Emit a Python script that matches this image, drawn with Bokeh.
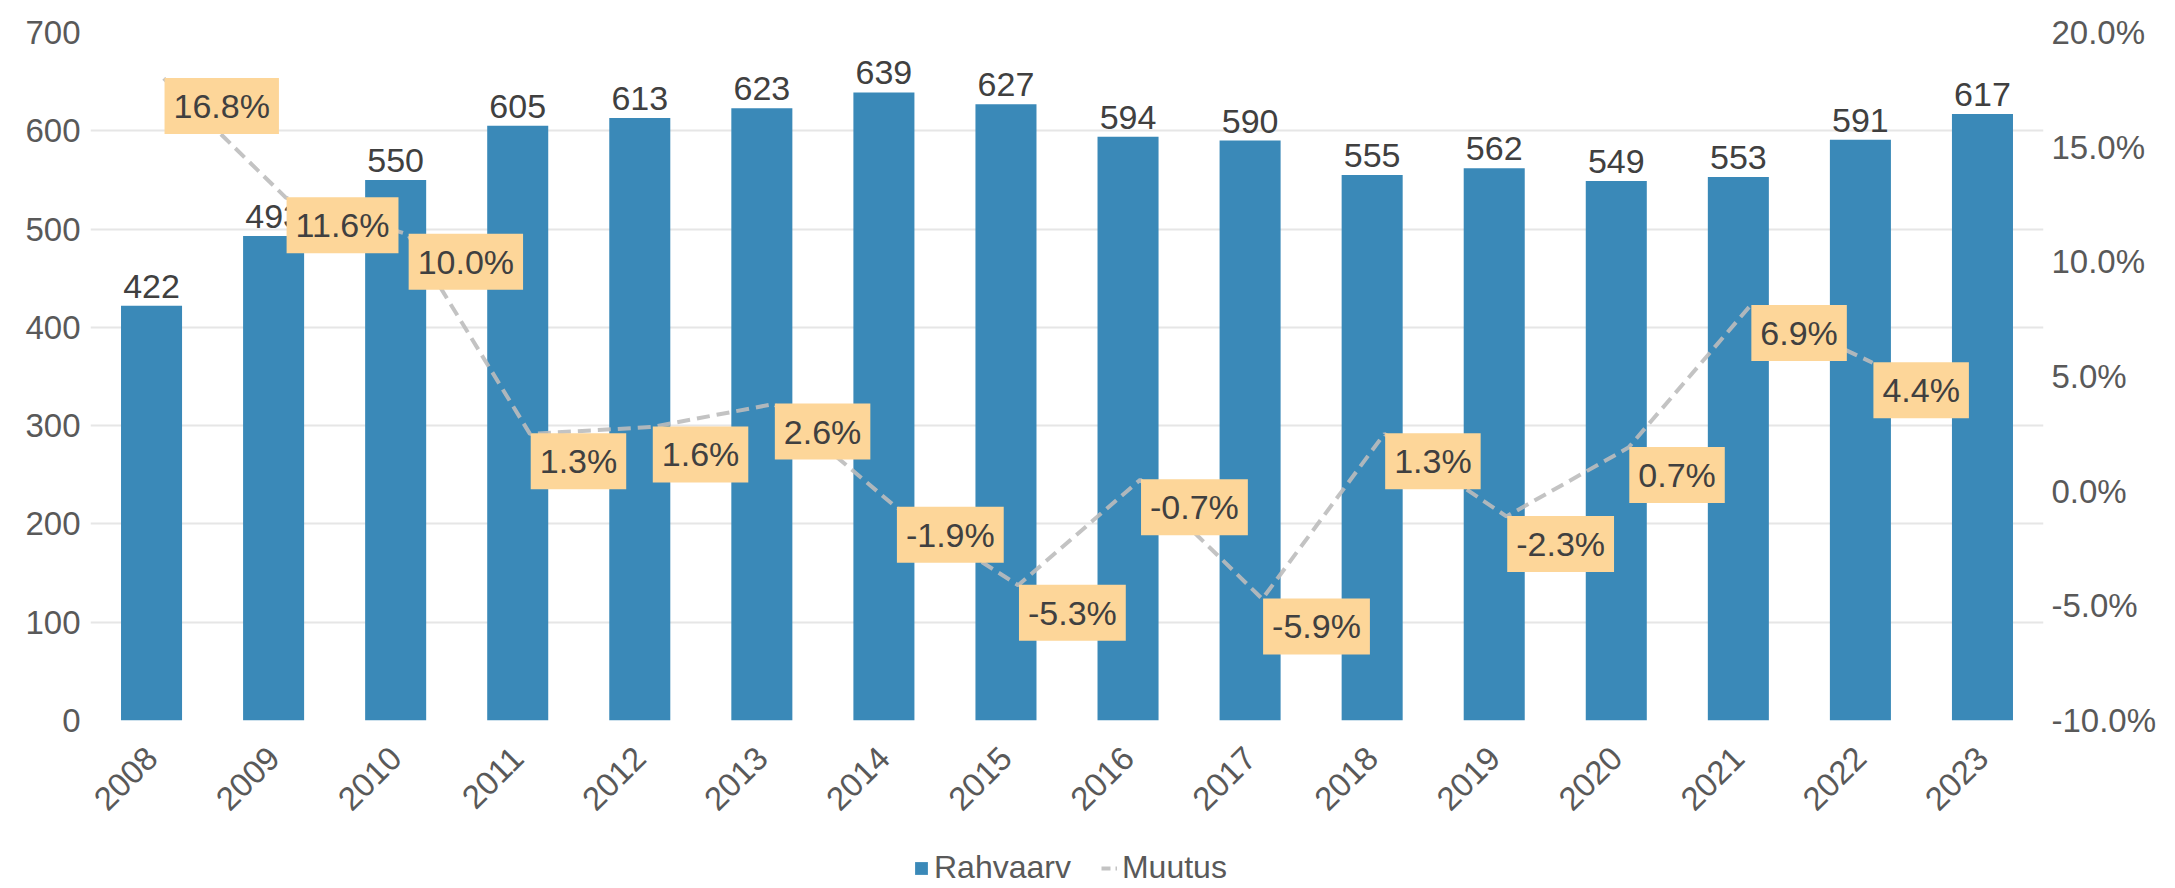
import math
from bokeh.plotting import figure
from bokeh.layouts import column
from bokeh.models import (ColumnDataSource, FactorRange, Range1d, LinearAxis,
                          FixedTicker, Legend, LegendItem, PrintfTickFormatter)
from bokeh.core.properties import value
from bokeh.transform import dodge
from bokeh.embed import file_html
from bokeh.resources import INLINE

# ---- data ----
years = ["2008", "2009", "2010", "2011", "2012", "2013", "2014", "2015",
         "2016", "2017", "2018", "2019", "2020", "2021", "2022", "2023"]
population = [422, 493, 550, 605, 613, 623, 639, 627, 594, 590, 555, 562, 549, 553, 591, 617]
# change vs previous year (2009..2023), plotted from the first category on
change_years = years[:-1]
change_pct = [16.8, 11.6, 10.0, 1.3, 1.6, 2.6, -1.9, -5.3, -0.7, -5.9, 1.3, -2.3, 0.7, 6.9, 4.4]
left_ticks = [0, 100, 200, 300, 400, 500, 600, 700]
right_ticks = [-10, -5, 0, 5, 10, 15, 20]
series_names = ["Rahvaarv", "Muutus"]

FONT = "Liberation Sans"
BAR_COLOR = "#3A89B8"
BOX_COLOR = "#FDD699"
LINE_COLOR = "#BDBDBD"
AXIS_TEXT = "#595959"
DATA_TEXT = "#404040"
FS = "34px"

bar_src = ColumnDataSource(dict(year=years, pop=population,
                                pop_label=[str(v) for v in population]))
line_src = ColumnDataSource(dict(year=change_years, pct=change_pct,
                                 pct_label=[f"{v:.1f}%" for v in change_pct]))

p = figure(x_range=FactorRange(factors=years, range_padding=0),
           y_range=Range1d(0, 700),
           width=2159, height=850,
           output_backend="svg", toolbar_location=None, tools="",
           min_border_left=90, min_border_right=116,
           min_border_top=32, min_border_bottom=130)
p.outline_line_color = None
p.background_fill_color = "white"
p.border_fill_color = "white"

p.extra_y_ranges = {"pct": Range1d(-10, 20), "pct_line": Range1d(-11.2, 18.8)}

# bars
bars = p.vbar(x="year", top="pop", width=0.5, source=bar_src,
              fill_color=BAR_COLOR, line_color=None)

# bar value labels
p.text(x="year", y="pop", text="pop_label", source=bar_src,
       text_align="center", text_baseline="bottom", y_offset=-8,
       text_font=value(FONT), text_font_size=value(FS), text_color=DATA_TEXT)

# dashed change line
line = p.line(x=dodge("year", 0.1, range=p.x_range), y="pct", source=line_src,
              y_range_name="pct_line", line_color=LINE_COLOR, line_alpha=0.9,
              line_width=4, line_dash="13 7")

# percentage labels with boxes
p.text(x="year", y="pct", text="pct_label", source=line_src,
       y_range_name="pct", x_offset=13,
       text_align="left", text_baseline="middle",
       text_font=value(FONT), text_font_size=value(FS), text_color=DATA_TEXT,
       background_fill_color=BOX_COLOR, padding=9)

# axes
p.yaxis.ticker = FixedTicker(ticks=left_ticks)
for ax in [p.yaxis[0], p.xaxis[0]]:
    ax.axis_line_color = None
    ax.major_tick_line_color = None
    ax.minor_tick_line_color = None
    ax.major_tick_out = 0
    ax.major_label_text_font = FONT
    ax.major_label_text_font_size = "33px"
    ax.major_label_text_color = AXIS_TEXT
p.yaxis.major_label_standoff = 10
p.xaxis.major_label_orientation = math.pi / 4
p.xaxis.major_label_standoff = 32

right_axis = LinearAxis(y_range_name="pct", ticker=FixedTicker(ticks=right_ticks),
                        formatter=PrintfTickFormatter(format="%.1f%%"))
right_axis.axis_line_color = None
right_axis.major_tick_line_color = None
right_axis.minor_tick_line_color = None
right_axis.major_tick_out = 0
right_axis.major_label_text_font = FONT
right_axis.major_label_text_font_size = "33px"
right_axis.major_label_text_color = AXIS_TEXT
right_axis.major_label_standoff = 8
p.add_layout(right_axis, "right")

p.xgrid.grid_line_color = None
p.ygrid.grid_line_color = "#E6E6E6"
p.ygrid.grid_line_width = 2

# legend strip below the chart (series drawn off-view so only the legend shows)
q = figure(width=2159, height=36, output_backend="svg", toolbar_location=None,
           tools="", x_range=FactorRange(factors=years, range_padding=0),
           y_range=Range1d(1000, 1001), min_border=0)
q.axis.visible = False
q.grid.visible = False
q.outline_line_color = None
leg_bar = q.vbar(x="year", top="pop", width=0.5, source=bar_src,
                 fill_color=BAR_COLOR, line_color=None)
leg_line = q.line(x="year", y="pct", source=line_src, line_color=LINE_COLOR,
                  line_alpha=0.9, line_width=4, line_dash="9 5")
legend = Legend(items=[LegendItem(label=series_names[0], renderers=[leg_bar]),
                       LegendItem(label=series_names[1], renderers=[leg_line])],
                orientation="horizontal", location=(823, 0),
                label_text_font=FONT, label_text_font_size="32px",
                label_text_color=AXIS_TEXT, glyph_width=16, glyph_height=16,
                label_standoff=5, spacing=30, padding=0, margin=0,
                background_fill_alpha=0, border_line_color=None)
q.add_layout(legend)

layout = column(p, q, spacing=0)
open("out.html", "w").write(file_html(layout, INLINE))
